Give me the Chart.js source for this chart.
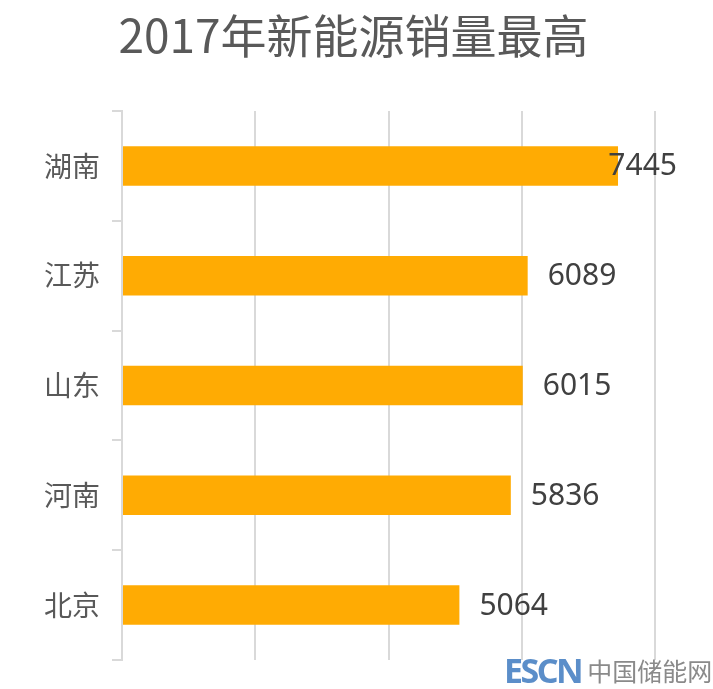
<!DOCTYPE html>
<html>
<head>
<meta charset="utf-8">
<script src="https://cdn.jsdelivr.net/npm/chart.js@4/dist/chart.umd.min.js"></script>
<style>
  html, body { margin: 0; padding: 0; background: #fff; }
  #wrap { position: relative; width: 713px; height: 689px; }
  #mark {
    position: absolute; left: 504px; top: 650px; height: 40px;
    display: flex; align-items: center; white-space: nowrap;
  }
  #mark b { color: #5b8ec9; font-family: "Noto Sans", sans-serif; font-size: 34px; font-weight: 700; letter-spacing: -2.5px; }
  #mark span { color: #8a8a8a; font-family: "Noto Sans CJK SC", sans-serif; font-size: 25px; margin-left: 6px; }
</style>
</head>
<body>
<div id="wrap">
  <canvas id="salesChart" width="713" height="689"></canvas>
  <div id="mark"><b>ESCN</b><span>中国储能网</span></div>
</div>
<script>
// 数据
const provinces = ["湖南", "江苏", "山东", "河南", "北京"];
const sales     = [7445, 6089, 6015, 5836, 5064];
const axisMax   = 8000;
const axisStep  = 2000;
const chartTitle = "2017年新能源销量最高";

// 标题居中于整张画布（不受右侧留白影响）
const centeredTitle = {
  id: "centeredTitle",
  afterDraw(chart) {
    const ctx = chart.ctx;
    ctx.save();
    ctx.font = "46px 'Noto Sans CJK SC', sans-serif";
    ctx.fillStyle = "#595959";
    ctx.textAlign = "center";
    ctx.textBaseline = "middle";
    ctx.fillText(chartTitle, chart.width / 2 - 3, 36);
    ctx.restore();
  }
};

// 柱子末端的数值标签
const valueLabels = {
  id: "valueLabels",
  afterDatasetsDraw(chart) {
    const ctx  = chart.ctx;
    const meta = chart.getDatasetMeta(0);
    const limit = chart.chartArea.right + 22;
    ctx.save();
    ctx.font = "30px 'Noto Sans', sans-serif";
    ctx.fillStyle = "#404040";
    ctx.textBaseline = "middle";
    ctx.textAlign = "left";
    meta.data.forEach((bar, i) => {
      const txt = String(sales[i]);
      const w = ctx.measureText(txt).width;
      const x = Math.min(bar.x + 20, limit - w);
      ctx.fillText(txt, x, bar.y + 1);
    });
    ctx.restore();
  }
};

new Chart(document.getElementById("salesChart"), {
  type: "bar",
  data: {
    labels: provinces,
    datasets: [{
      data: sales,
      backgroundColor: "#ffab03",
      categoryPercentage: 1,
      barPercentage: 0.36
    }]
  },
  options: {
    indexAxis: "y",
    responsive: false,
    animation: false,
    layout: { padding: { left: 0, right: 58, top: 111, bottom: 29 } },
    plugins: {
      legend: { display: false },
      tooltip: { enabled: false },
      title: { display: false }
    },
    scales: {
      x: {
        min: 0,
        max: axisMax,
        ticks: { display: false, stepSize: axisStep },
        grid: { color: "#d9d9d9", lineWidth: 2, drawTicks: false },
        border: { display: false },
        afterFit: s => { s.height = 0; }
      },
      y: {
        grid: { drawOnChartArea: false, color: "#d9d9d9", lineWidth: 2, tickLength: 10 },
        border: { display: true, color: "#d9d9d9", width: 2 },
        ticks: {
          color: "#595959",
          padding: 12,
          font: { family: "'Noto Sans CJK SC', sans-serif", size: 28 }
        },
        afterFit: s => { s.width = 122; }
      }
    }
  },
  plugins: [centeredTitle, valueLabels]
});
</script>
</body>
</html>
